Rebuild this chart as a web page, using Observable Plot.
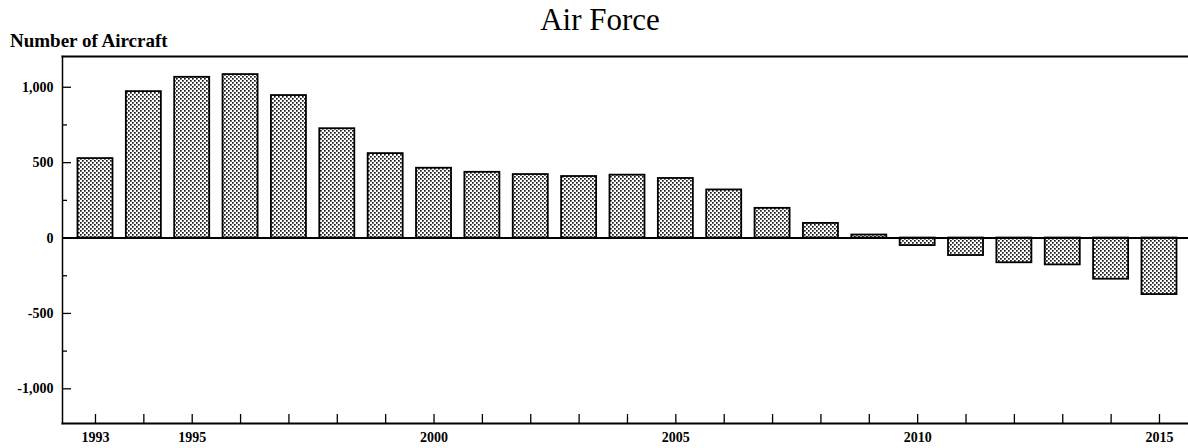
<!DOCTYPE html>
<html><head><meta charset="utf-8">
<script src="https://cdn.jsdelivr.net/npm/d3@7"></script>
<script src="https://cdn.jsdelivr.net/npm/@observablehq/plot@0.6"></script>
<style>
body{margin:0;background:#fff;width:1188px;height:448px;overflow:hidden;font-family:"Liberation Serif",serif;}
#head{position:relative;height:50px;}
#title{position:absolute;left:0;width:1200px;text-align:center;top:4px;font-size:31px;line-height:31px;color:#000;}
#ylab{position:absolute;left:10px;top:31px;font-size:19px;font-weight:bold;line-height:19px;color:#000;}
#chart svg{display:block;}
</style></head><body>
<div id="head"><div id="title">Air Force</div><div id="ylab">Number of Aircraft</div></div>
<div id="chart"></div>
<script>
const years = [1993,1994,1995,1996,1997,1998,1999,2000,2001,2002,2003,2004,2005,2006,2007,2008,2009,2010,2011,2012,2013,2014,2015];
const values = [527,971,1066,1084,945,725,560,463,436,421,408,417,395,319,197,97,20,-50,-116,-164,-178,-273,-375];
const xTickYears = [1993,1995,2000,2005,2010,2015];
const yMajor = [-1000,-500,500,1000];
const yLabels = [-1000,-500,0,500,1000];
const yMinor = [-750,-250,250,750];

const data = years.map((y,i)=>({year:y, value:values[i]}));
const W=1188, H=398, ML=62, MT=6, MB=25;
const PH = H-MT-MB;
const fmt = d => d3.format(",")(d).replace("\u2212","-");

const svg = Plot.plot({
  width: W, height: H, marginLeft: ML, marginRight: 0, marginTop: MT, marginBottom: MB,
  x: {type:"linear", domain:[1992.318, 2015.6]},
  y: {domain:[-1230, 1204]},
  style: {fontFamily:"Liberation Serif", fontSize:"14px", fontWeight:"bold", background:"white", color:"black"},
  marks: [
    Plot.rectY(data, {x1: d=>d.year-0.362, x2: d=>d.year+0.362, y1: 0, y2: "value", fill:"url(#stip)", stroke:"black", strokeWidth:1.8}),
    Plot.ruleY([0], {stroke:"black", strokeWidth:2}),
    Plot.frame({anchor:"top", stroke:"black", strokeWidth:2}),
    Plot.frame({anchor:"bottom", stroke:"black", strokeWidth:2}),
    Plot.frame({anchor:"left", stroke:"black", strokeWidth:1.5}),
    Plot.ruleY(yMajor, {insetRight: W-ML-9, stroke:"black", strokeWidth:1.3}),
    Plot.ruleY(yMinor, {insetRight: W-ML-5, stroke:"black", strokeWidth:1.3}),
    Plot.ruleX(years, {insetTop: PH-9, stroke:"black", strokeWidth:1.3}),
    Plot.axisY({ticks: yLabels, tickSize:0, tickPadding:9, tickFormat: fmt, label:null}),
    Plot.axisX({ticks: xTickYears, tickSize:0, tickPadding:9, tickFormat: d=>String(d), label:null})
  ]
});
const ns="http://www.w3.org/2000/svg";
const defs=document.createElementNS(ns,"defs");
defs.innerHTML='<pattern id="stip" width="4" height="4" patternUnits="userSpaceOnUse"><rect width="4" height="4" fill="#fff"/><rect width="1.7" height="1.7" fill="#1a1a1a"/><rect x="2" y="2" width="1.7" height="1.7" fill="#1a1a1a"/></pattern>';
svg.insertBefore(defs, svg.firstChild);
document.getElementById("chart").appendChild(svg);
</script>
</body></html>
